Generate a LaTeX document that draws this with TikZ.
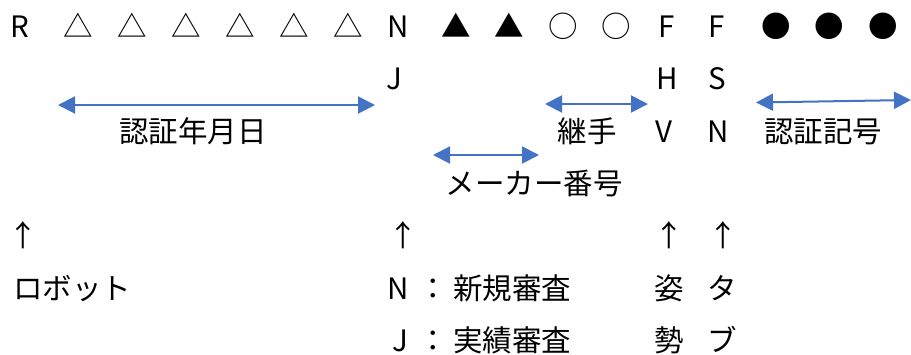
\documentclass[tikz,border=0pt]{standalone}
\usepackage{fontspec}
\setmainfont{Noto Sans CJK JP}
\usetikzlibrary{arrows.meta}
\definecolor{arrowblue}{HTML}{4472C4}
\tikzset{
  t/.style={anchor=base, inner sep=0pt, font=\fontsize{29.5pt}{29.5pt}\selectfont},
  span/.style={draw=arrowblue, line width=2pt, {Triangle[length=17pt,width=17pt]}-{Triangle[length=17pt,width=17pt]}, fill=arrowblue}
}
\begin{document}
\begin{tikzpicture}[x=1pt,y=-1pt]
\useasboundingbox (0,0) rectangle (911,354);
% row 1
\node[t] (r1) at (20,37) {R};
\node[t] (tr1) at (78,37) {△};
\node[t] (tr2) at (132,37) {△};
\node[t] (tr3) at (186,37) {△};
\node[t] (tr4) at (240,37) {△};
\node[t] (tr5) at (294,37) {△};
\node[t] (tr6) at (348,37) {△};
\node[t] (n1) at (398,37) {N};
\node[t] (bt1) at (456,37) {▲};
\node[t] (bt2) at (509,37) {▲};
\node[t] (oc1) at (563,37) {○};
\node[t] (oc2) at (616,37) {○};
\node[t] (f1) at (667,37) {F};
\node[t] (f2) at (717,37) {F};
\node[t] (bc1) at (776,37) {●};
\node[t] (bc2) at (829,37) {●};
\node[t] (bc3) at (883,37) {●};
% row 2
\node[t] (j1) at (394,89) {J};
\node[t] (h1) at (667,89) {H};
\node[t] (s1) at (717,89) {S};
% span arrows
\coordinate (a1l) at (58,105);
\coordinate (a1r) at (375,105);
\draw[span] (a1l) -- (a1r);
\coordinate (a2l) at (545,104);
\coordinate (a2r) at (648,104);
\draw[span] (a2l) -- (a2r);
\coordinate (a3l) at (756,102.5);
\coordinate (a3r) at (911,100);
\draw[span] (a3l) -- (a3r);
\coordinate (a4l) at (433,155);
\coordinate (a4r) at (539,155);
\draw[span] (a4l) -- (a4r);
% row 3
\node[t] (nen) at (193,142) {認証年月日};
\node[t] (tsugi) at (587,142) {継手};
\node[t] (v1) at (664,142) {V};
\node[t] (n2) at (718,142) {N};
\node[t] (kigo) at (823,142) {認証記号};
\node[t] (maker) at (534,194) {メーカー番号};
% up arrows
\node[t] (u1) at (23,246) {↑};
\node[t] (u2) at (403,246) {↑};
\node[t] (u3) at (669,246) {↑};
\node[t] (u4) at (723,246) {↑};
% bottom rows
\node[t] (robot) at (72,299) {ロボット};
\node[t] (n3) at (398,299) {N};
\node[t] (c1) at (433,299) {：};
\node[t] (shinki) at (512,299) {新規審査};
\node[t] (shi) at (669,299) {姿};
\node[t] (ta) at (722,299) {タ};
\node[t] (j2) at (400,351) {J};
\node[t] (c2) at (433,351) {：};
\node[t] (jisseki) at (512,351) {実績審査};
\node[t] (sei) at (669,351) {勢};
\node[t] (bu) at (722,351) {ブ};
\end{tikzpicture}
\end{document}
